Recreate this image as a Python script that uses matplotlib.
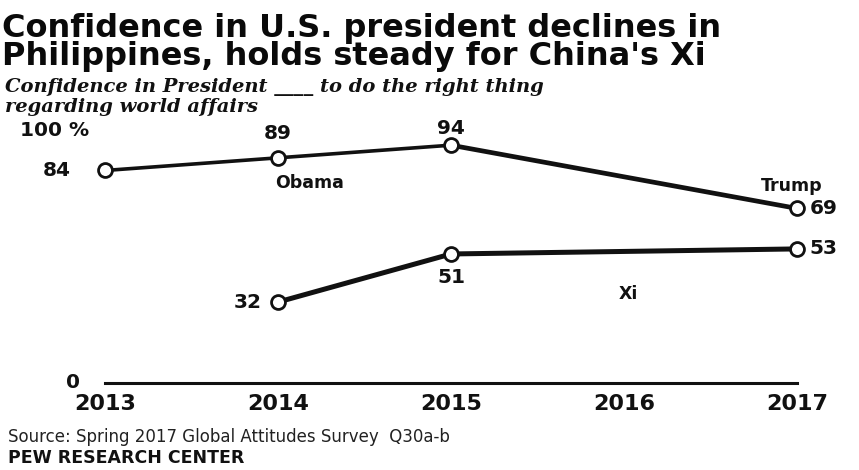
import matplotlib
matplotlib.use("Agg")
import matplotlib.pyplot as plt

years_us = [2013, 2014, 2015, 2017]
us_values = [84, 89, 94, 69]
years_xi = [2014, 2015, 2017]
xi_values = [32, 51, 53]
tick_years = [2013, 2014, 2015, 2016, 2017]

W, H = 859, 470
fig = plt.figure(figsize=(W / 100, H / 100), dpi=100)
fig.patch.set_facecolor("white")

# axes: x 2013 at px 105, 2017 at px 797; y 0 at px 383, 100 at px 130
left, right, bottom_px, top_px = 105, 797, 383, 130
ax = fig.add_axes([left / W, 1 - bottom_px / H, (right - left) / W, (bottom_px - top_px) / H])
ax.set_xlim(2013, 2017)
ax.set_ylim(0, 100)
ax.set_facecolor("none")
for s in ["top", "right", "left"]:
    ax.spines[s].set_visible(False)
ax.spines["bottom"].set_linewidth(2.2)
ax.spines["bottom"].set_color("#111111")
ax.set_yticks([])
ax.set_xticks(tick_years)
ax.set_xticklabels([str(y) for y in tick_years], fontsize=16, fontweight="bold",
                   fontfamily="DejaVu Sans", color="#111111")
ax.tick_params(axis="x", length=0, pad=8)

# US president line: Obama segment thinner, Trump segment thicker
ax.plot(years_us[:3], us_values[:3], color="#111111", lw=2.6, zorder=2, clip_on=False)
ax.plot(years_us[2:], us_values[2:], color="#111111", lw=3.4, zorder=2, clip_on=False)
ax.plot(years_us, us_values, ls="none", marker="o", ms=10, mfc="white", mec="#111111",
        mew=2, zorder=3, clip_on=False)
ax.plot(years_xi, xi_values, color="#111111", lw=3.6, zorder=2, clip_on=False)
ax.plot(years_xi, xi_values, ls="none", marker="o", ms=10, mfc="white", mec="#111111",
        mew=2, zorder=3, clip_on=False)

lab = dict(fontsize=14.5, fontweight="bold", color="#111111", fontfamily="DejaVu Sans")
ax.annotate("84", (years_us[0], us_values[0]), xytext=(-25, 0), textcoords="offset points",
            ha="right", va="center", **lab)
ax.annotate("89", (years_us[1], us_values[1]), xytext=(0, 11), textcoords="offset points",
            ha="center", va="bottom", **lab)
ax.annotate("94", (years_us[2], us_values[2]), xytext=(0, 5), textcoords="offset points",
            ha="center", va="bottom", **lab)
ax.annotate("69", (years_us[3], us_values[3]), xytext=(9, 0), textcoords="offset points",
            ha="left", va="center", **lab)
ax.annotate("53", (years_xi[2], xi_values[2]), xytext=(9, 0), textcoords="offset points",
            ha="left", va="center", **lab)
ax.annotate("51", (years_xi[1], xi_values[1]), xytext=(0, -10), textcoords="offset points",
            ha="center", va="top", **lab)
ax.annotate("32", (years_xi[0], xi_values[0]), xytext=(-12, 0), textcoords="offset points",
            ha="right", va="center", **lab)

name = dict(fontsize=12.5, fontweight="bold", color="#111111", fontfamily="DejaVu Sans")
ax.annotate("Obama", (years_us[1], us_values[1]), xytext=(23, -12), textcoords="offset points",
            ha="center", va="top", **name)
ax.annotate("Trump", (years_us[3], us_values[3]), xytext=(-4, 10), textcoords="offset points",
            ha="center", va="bottom", **name)
ax.annotate("Xi", (2016, xi_values[2]), xytext=(3, -26), textcoords="offset points",
            ha="center", va="top", **name)

fig.text(20 / W, 1 - 130 / H, "100 %", ha="left", va="center", **lab)
fig.text(80 / W, 1 - 383 / H, "0", ha="right", va="center", **lab)

# titles
title_kw = dict(fontsize=23, fontweight="bold", fontfamily="DejaVu Sans", ha="left",
                va="center", color="#0a0a0a")
fig.text(2 / W, 1 - 28 / H, "Confidence in U.S. president declines in", **title_kw)
fig.text(2 / W, 1 - 57 / H, "Philippines, holds steady for China's Xi", **title_kw)
sub_kw = dict(fontsize=14, fontweight="bold", style="italic", fontfamily="DejaVu Serif",
              ha="left", va="center", color="#111111")
fig.text(5 / W, 1 - 87 / H, "Confidence in President ____ to do the right thing", **sub_kw)
fig.text(5 / W, 1 - 107 / H, "regarding world affairs", **sub_kw)
fig.text(8 / W, 1 - 437 / H, "Source: Spring 2017 Global Attitudes Survey  Q30a-b",
         fontsize=12, fontfamily="DejaVu Sans", ha="left", va="center", color="#222222")
fig.text(8 / W, 1 - 458 / H, "PEW RESEARCH CENTER",
         fontsize=12.5, fontweight="bold", fontfamily="DejaVu Sans", ha="left", va="center",
         color="#111111")

fig.savefig("out.png", dpi=100, facecolor="white")
